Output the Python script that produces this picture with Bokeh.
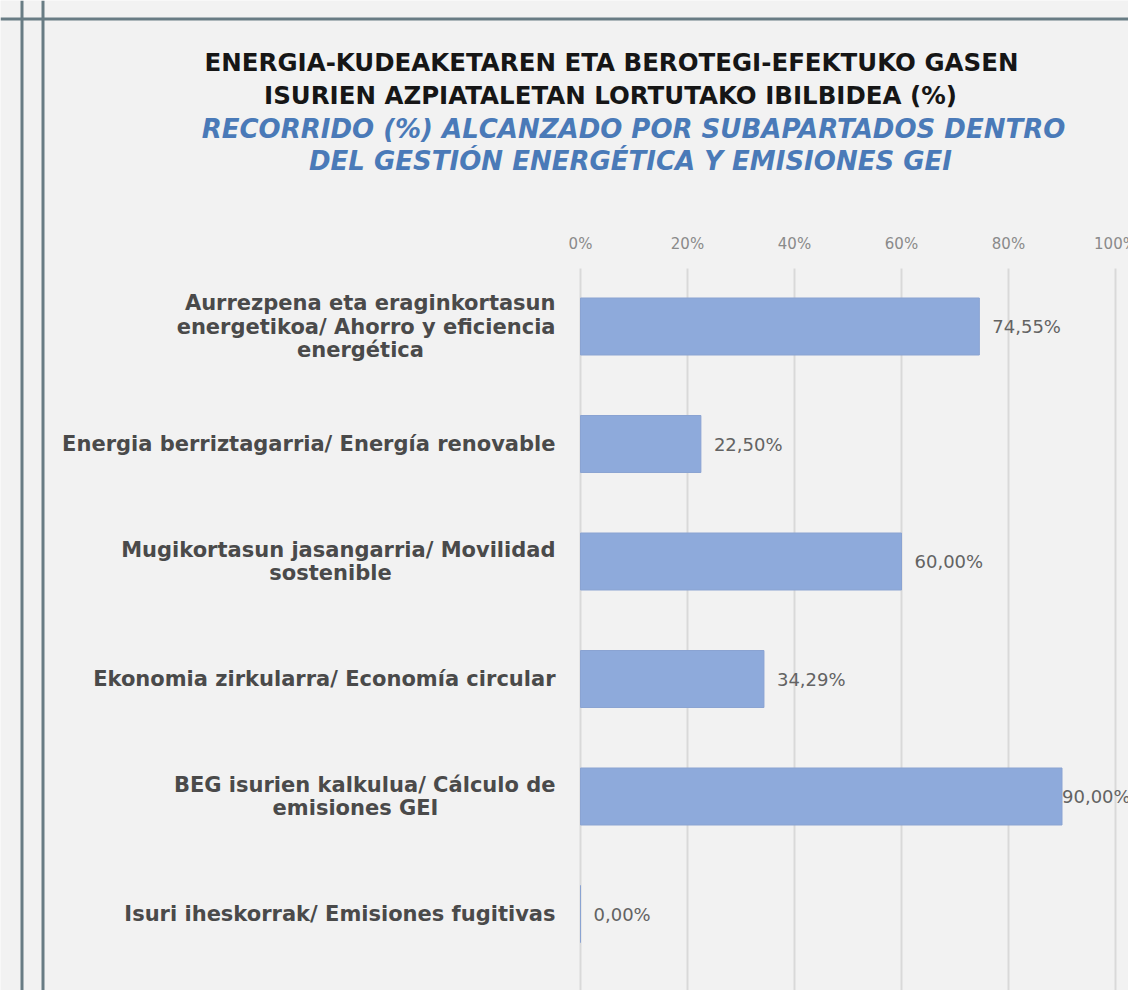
from bokeh.plotting import figure
from bokeh.models import Range1d, Span, Label
from bokeh.embed import file_html
from bokeh.resources import INLINE
from bokeh.core.properties import value

# ---------------- data ----------------
categories = [
    "Aurrezpena eta eraginkortasun\nenergetikoa/ Ahorro y eficiencia\nenergética",
    "Energia berriztagarria/ Energía renovable",
    "Mugikortasun jasangarria/ Movilidad\nsostenible",
    "Ekonomia zirkularra/ Economía circular",
    "BEG isurien kalkulua/ Cálculo de\nemisiones GEI",
    "Isuri iheskorrak/ Emisiones fugitivas",
]
values = [74.55, 22.50, 60.00, 34.29, 90.00, 0.00]
tick_values = [0, 20, 40, 60, 80, 100]
tick_labels = ["0%", "20%", "40%", "60%", "80%", "100%"]
title_eu = ["ENERGIA-KUDEAKETAREN ETA BEROTEGI-EFEKTUKO GASEN",
            "ISURIEN AZPIATALETAN LORTUTAKO IBILBIDEA (%)"]
title_es = ["RECORRIDO (%) ALCANZADO POR SUBAPARTADOS DENTRO",
            "DEL GESTIÓN ENERGÉTICA Y EMISIONES GEI"]

value_labels = [("%.2f%%" % v).replace(".", ",") for v in values]

# ---------------- layout (pixels) ----------------
W, H = 1128, 990
X0 = 580.0          # pixel of 0 %
PX_PER = 5.35       # pixels per percent
Y0 = 326.0          # pixel centre of first bar
BAND = 117.5        # pixels per category
FONT = "DejaVu Sans"

p = figure(width=W, height=H, output_backend="svg", toolbar_location=None,
           x_range=Range1d(-X0 / PX_PER, (W - X0) / PX_PER),
           y_range=Range1d((H - Y0) / BAND, -Y0 / BAND),
           x_axis_location=None, y_axis_location=None,
           min_border=0, outline_line_color=None,
           background_fill_color="#f2f2f2", border_fill_color="#f2f2f2")
p.grid.visible = False

idx = list(range(len(categories)))

# gridlines at the tick values
grid_top = (268 - Y0) / BAND
p.segment(x0=tick_values, x1=tick_values,
          y0=[grid_top] * len(tick_values), y1=[7] * len(tick_values),
          line_color="#d9d9d9", line_width=2)

# bars
p.hbar(y=idx, left=0, right=values, height=0.485,
       fill_color="#8eaadb", line_color="#8aa3d2", line_width=1)

# value labels (a label that would run off the chart is pulled in, as in the original)
label_offsets = [0 if v > 85 else 13 for v in values]
p.text(x=values, y=idx, text=value_labels, x_offset=label_offsets,
       text_align="left", text_baseline="middle",
       text_font=value(FONT), text_font_size="18px", text_color="#636363")

# tick labels (top axis)
p.text(x=tick_values, y=[(243 - Y0) / BAND] * len(tick_values), text=tick_labels,
       text_align="center", text_baseline="middle",
       text_font=value(FONT), text_font_size="15px", text_color="#8a8a8a")

# category labels: long lines right aligned, last line of a wrapped label centred
LINE_H = 23.5
centre_px = {0: 360, 2: 330, 4: 355}
r_x, r_y, r_t, r_off = [], [], [], []
c_x, c_y, c_t, c_off, c_xoff = [], [], [], [], []
for i, cat in enumerate(categories):
    lines = cat.split("\n")
    n = len(lines)
    for j, ln in enumerate(lines):
        yoff = (j - (n - 1) / 2.0) * LINE_H
        if n > 1 and j == n - 1:
            c_x.append(0); c_y.append(i); c_t.append(ln); c_off.append(yoff)
            c_xoff.append(centre_px[i] - X0)
        else:
            r_x.append(0); r_y.append(i); r_t.append(ln); r_off.append(yoff)

p.text(x=r_x, y=r_y, text=r_t, y_offset=r_off, x_offset=-25,
       text_align="right", text_baseline="middle",
       text_font=value(FONT), text_font_size="21px", text_font_style="bold",
       text_color="#4a4a4a")
p.text(x=c_x, y=c_y, text=c_t, y_offset=c_off, x_offset=c_xoff,
       text_align="center", text_baseline="middle",
       text_font=value(FONT), text_font_size="21px", text_font_style="bold",
       text_color="#4a4a4a")

# titles
for txt, cx, cy in zip(title_eu, [611, 610], [62, 95]):
    p.add_layout(Label(x=cx, y=H - cy, x_units="screen", y_units="screen",
                       text=txt, text_align="center", text_baseline="middle",
                       text_font=FONT, text_font_size="24.5px", text_font_style="bold",
                       text_color="#161616"))
for txt, cx, cy in zip(title_es, [633, 630], [128, 160]):
    p.add_layout(Label(x=cx, y=H - cy, x_units="screen", y_units="screen",
                       text=txt, text_align="center", text_baseline="middle",
                       text_font=FONT, text_font_size="26px", text_font_style="bold italic",
                       text_color="#4a7ab8"))

# panel borders
for xpx in [21.5, 42.5]:
    p.add_layout(Span(location=xpx, location_units="screen", dimension="height",
                      line_color="#687c84", line_width=3))
p.add_layout(Span(location=H - 18.5, location_units="screen", dimension="width",
                  line_color="#687c84", line_width=3))

open("out.html", "w").write(file_html(p, INLINE))
